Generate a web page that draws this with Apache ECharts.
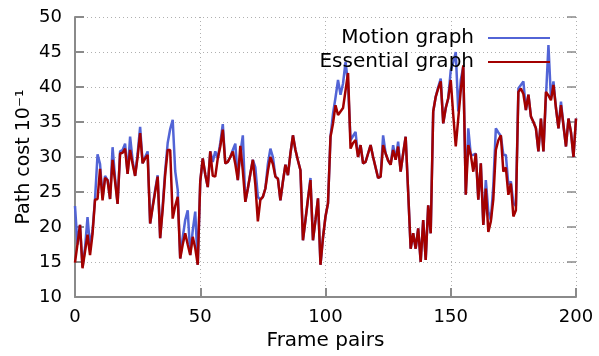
<!DOCTYPE html>
<html><head><meta charset="utf-8">
<script src="https://cdn.jsdelivr.net/npm/echarts@6/dist/echarts.min.js"></script>
<style>html,body{margin:0;padding:0;background:#fff}#c{width:599px;height:356px}</style>
</head><body><div id="c"></div>
<script>
// Frame indices 0..200
const frames = Array.from({length: 201}, (_, i) => i);
const xTicks = [0, 50, 100, 150, 200];
const yTicks = [10, 15, 20, 25, 30, 35, 40, 45, 50];
const seriesNames = ['Motion graph', 'Essential graph'];

const motionCost = [
23.0,17.5,20.3,14.3,17.0,21.4,17.2,19.5,24.0,30.4,
29.0,24.2,27.3,26.7,24.0,31.4,27.0,23.3,30.8,31.0,
31.9,27.6,32.9,29.5,27.3,30.5,34.3,29.1,30.0,30.8,
20.5,23.0,25.3,27.4,18.4,23.0,28.0,32.0,34.0,35.3,
28.0,25.3,15.5,18.5,21.0,22.4,16.0,19.5,22.2,14.6,
26.5,29.8,27.5,25.7,30.8,29.3,30.8,29.8,32.0,34.7,
29.1,29.3,30.0,31.0,31.9,26.7,30.5,33.1,23.6,25.5,
27.6,29.6,28.5,24.3,23.9,24.3,25.5,29.0,31.2,30.0,
27.2,26.9,23.8,26.5,28.9,27.4,30.5,33.1,31.0,29.5,
28.1,18.1,21.0,24.0,27.0,18.1,21.0,24.1,14.6,18.5,
21.5,23.4,32.9,36.2,38.5,41.0,38.9,40.5,43.6,40.5,
32.4,33.0,33.6,30.0,31.7,29.1,29.3,30.5,31.7,30.0,
28.5,27.0,27.2,33.1,30.5,29.5,28.9,31.7,29.6,32.2,
27.9,30.5,32.9,25.0,16.9,19.1,16.9,19.8,15.0,21.0,
15.3,23.1,19.1,36.5,38.6,40.0,41.2,34.8,37.0,38.4,
42.4,43.5,45.0,36.5,41.0,42.9,24.6,34.1,30.3,30.3,
30.5,23.9,29.1,20.3,26.7,22.2,21.0,26.0,34.1,33.5,
33.0,30.3,30.3,26.0,26.5,23.4,23.0,39.8,40.3,40.8,
36.7,38.9,35.8,35.0,34.1,30.8,35.5,30.8,38.5,46.0,
38.3,40.8,37.0,34.1,37.9,34.5,31.5,35.5,33.5,30.0,
35.5];

const essentialCost = [
14.9,17.6,20.3,14.1,16.5,18.9,16.0,19.0,23.9,24.0,
28.3,23.8,27.0,26.7,24.0,29.6,26.5,23.3,30.5,30.6,
31.2,27.6,31.0,29.0,27.3,30.0,33.4,29.1,29.8,30.3,
20.5,22.8,25.0,27.2,18.4,22.5,27.5,31.0,31.0,21.2,
23.0,24.3,15.5,17.5,19.1,17.5,16.0,18.6,17.0,14.6,
26.5,29.8,27.5,25.7,30.8,27.3,27.2,29.8,31.5,33.9,
29.1,29.3,30.0,30.8,29.0,26.7,31.6,28.0,23.6,25.5,
27.6,29.6,26.0,20.8,23.9,24.3,25.5,28.0,30.0,29.0,
27.2,26.9,23.8,26.5,28.9,27.4,30.5,33.1,31.0,29.5,
28.1,18.1,21.0,24.0,26.7,18.1,21.0,24.1,14.6,18.5,
21.5,23.4,32.9,34.8,37.4,36.0,36.5,37.0,39.5,42.0,
31.2,32.0,32.4,30.0,31.7,29.1,29.3,30.5,31.7,30.0,
28.5,27.0,27.2,31.7,30.5,29.5,28.9,31.0,29.6,31.5,
27.9,30.5,32.9,25.0,16.9,19.1,16.9,19.8,15.0,21.0,
15.3,23.1,19.1,36.5,38.6,39.8,40.8,34.8,37.0,38.4,
41.0,36.0,31.5,35.5,39.5,43.1,24.6,31.7,30.3,27.9,
30.5,23.9,29.1,20.3,25.5,19.3,20.8,24.0,31.0,32.4,
33.1,27.9,28.5,24.6,26.2,21.5,22.4,39.3,39.8,39.0,
36.7,38.9,35.8,35.0,34.1,30.8,35.5,30.8,39.3,38.8,
38.1,40.3,37.0,34.1,37.4,34.5,31.5,35.5,33.5,30.0,
35.5];

const FONT = 'DejaVu Sans';
const axisGrey = '#8a8a8a';
const gridStyle = { color: '#b0b0b0', width: 1, type: [1, 3] };

const chart = echarts.init(document.getElementById('c'), null, { renderer: 'canvas' });
chart.setOption({
  animation: false,
  backgroundColor: '#fff',
  grid: { left: 75, right: 23, top: 17, bottom: 59, containLabel: false },
  legend: {
    orient: 'vertical', right: 49, top: 28, align: 'right', itemGap: 4, padding: 0,
    itemWidth: 62, itemHeight: 2, icon: 'rect',
    textStyle: { fontFamily: FONT, fontSize: 20, color: '#000', padding: [0, 9, 0, 0] },
    data: seriesNames
  },
  xAxis: {
    type: 'value', min: xTicks[0], max: xTicks[xTicks.length - 1], interval: 50,
    name: 'Frame pairs', nameLocation: 'middle', nameGap: 34, nameMoveOverlap: false,
    nameTextStyle: { fontFamily: FONT, fontSize: 20, color: '#000' },
    axisLine: { show: true, lineStyle: { color: axisGrey, width: 2 } },
    axisTick: { show: true, inside: true, length: 9, lineStyle: { color: axisGrey, width: 2 } },
    axisLabel: { fontFamily: FONT, fontSize: 18, color: '#000', margin: 11 },
    splitLine: { show: true, lineStyle: gridStyle }
  },
  yAxis: [{
    type: 'value', min: yTicks[0], max: yTicks[yTicks.length - 1], interval: 5,
    name: 'Path cost 10\u207B\u00B9', nameLocation: 'middle', nameGap: 41, nameMoveOverlap: false,
    nameTextStyle: { fontFamily: FONT, fontSize: 19, color: '#000' },
    axisLine: { show: true, lineStyle: { color: axisGrey, width: 2 } },
    axisTick: { show: true, inside: true, length: 9, lineStyle: { color: axisGrey, width: 2 } },
    axisLabel: { fontFamily: FONT, fontSize: 18, color: '#000', margin: 13 },
    splitLine: { show: true, lineStyle: gridStyle }
  }, {
    type: 'value', position: 'right', min: yTicks[0], max: yTicks[yTicks.length - 1], interval: 5,
    axisLine: { show: false },
    axisTick: { show: true, inside: true, length: 9, lineStyle: { color: axisGrey, width: 1.5 } },
    axisLabel: { show: false },
    splitLine: { show: false }
  }],
  series: [{
    name: seriesNames[0], type: 'line', showSymbol: false, symbol: 'none',
    data: frames.map((f, i) => [f, motionCost[i]]),
    lineStyle: { color: '#5264d6', width: 2.5 }, itemStyle: { color: '#5264d6' },
    z: 2
  }, {
    name: seriesNames[1], type: 'line', showSymbol: false, symbol: 'none',
    data: frames.map((f, i) => [f, essentialCost[i]]),
    lineStyle: { color: '#a30000', width: 2.5 }, itemStyle: { color: '#a30000' },
    z: 3
  }]
});
</script></body></html>
